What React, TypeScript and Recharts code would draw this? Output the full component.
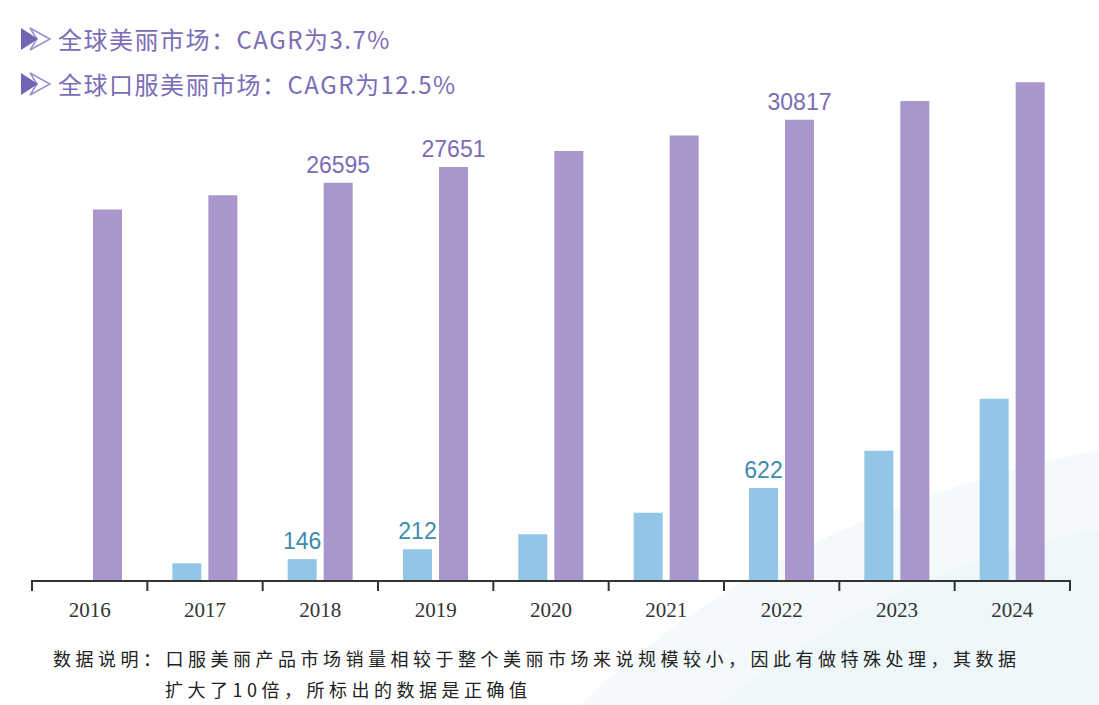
import React from 'react'
import { BarChart, Bar, XAxis, YAxis, LabelList } from 'recharts'

// 年份
const years = ['2016', '2017', '2018', '2019', '2020', '2021', '2022', '2023', '2024']
// 全球美丽市场规模
const globalBeauty = [24811, 25766, 26595, 27651, 28723, 29750, 30817, 32060, 33308]
// 全球口服美丽市场规模（真实值，图中柱高放大10倍）
const oralBeauty: (number | null)[] = [null, 118, 146, 212, 312, 456, 622, 870, 1217]
const oralScale = 10
// 只标注这几年的数值
const labeledYears = ['2018', '2019', '2022']

const titles = ['全球美丽市场：CAGR为3.7%', '全球口服美丽市场：CAGR为12.5%']
const noteLines = [
  '数据说明：口服美丽产品市场销量相较于整个美丽市场来说规模较小，因此有做特殊处理，其数据',
  '扩大了10倍，所标出的数据是正确值',
]

const W = 1099
const H = 705
const PLOT_LEFT = 32
const PLOT_RIGHT = 1070
const BASELINE = 581

const PURPLE = '#a996cd'
const BLUE = '#93c6e6'
const TITLE_COLOR = '#7b6cb7'
const BLUE_LABEL = '#3d8cad'

const data = years.map((year, i) => {
  const shown = labeledYears.includes(year)
  return {
    year,
    global: globalBeauty[i],
    globalLabel: shown ? globalBeauty[i] : null,
    oral: oralBeauty[i] == null ? null : (oralBeauty[i] as number) * oralScale,
    oralLabel: shown ? oralBeauty[i] : null,
  }
})

const halfBand = (PLOT_RIGHT - PLOT_LEFT) / years.length / 2

const YearTick = (props: any) => {
  const { x, y, payload, index } = props
  const last = index === years.length - 1
  return (
    <g>
      <line x1={x - halfBand} x2={x - halfBand} y1={y - 1} y2={y + 10} stroke="#333" strokeWidth={2} />
      {last && <line x1={x + halfBand} x2={x + halfBand} y1={y - 1} y2={y + 10} stroke="#333" strokeWidth={2} />}
      <text
        x={x}
        y={y + 36}
        textAnchor="middle"
        fill="#333"
        style={{ fontFamily: '"Liberation Serif", serif', fontSize: 21 }}
      >
        {payload.value}
      </text>
    </g>
  )
}

const makeLabel = (color: string) => (props: any) => {
  const { x, y, width, value } = props
  if (value == null) return null
  return (
    <text
      x={Number(x) + Number(width) / 2}
      y={Number(y) - 10}
      textAnchor="middle"
      fill={color}
      style={{ fontFamily: '"Liberation Sans", Arial, sans-serif', fontSize: 23 }}
    >
      {value}
    </text>
  )
}

const Arrow = () => (
  <svg width={32} height={24} style={{ marginRight: 6, flexShrink: 0 }}>
    <polygon points="10,1 30,12 10,23 17,12" fill="#fff" stroke="#9c8fcc" strokeWidth={1.5} />
    <polygon points="1,1 18,12 1,23" fill="#7464b4" />
  </svg>
)

export default function App() {
  return (
    <div
      style={{
        position: 'absolute',
        left: 0,
        top: 0,
        width: W,
        height: H,
        background: '#fff',
        overflow: 'hidden',
        fontFamily: '"Noto Sans CJK SC", sans-serif',
      }}
    >
      {/* 背景浅色弧形装饰 */}
      <svg width={W} height={H} style={{ position: 'absolute', left: 0, top: 0 }}>
        <path d="M 580 705 C 720 570, 900 490, 1099 450 L 1099 705 Z" fill="#f4fafb" />
        <path d="M 720 705 C 840 610, 970 550, 1099 530 L 1099 705 Z" fill="#eef7f9" />
      </svg>

      {/* 标题 */}
      {titles.map((t, i) => (
        <div
          key={t}
          style={{
            position: 'absolute',
            left: 20,
            top: 26 + i * 45,
            display: 'flex',
            alignItems: 'center',
            color: TITLE_COLOR,
            fontSize: 24,
            letterSpacing: 1.5,
            lineHeight: '26px',
            whiteSpace: 'nowrap',
          }}
        >
          <Arrow />
          <span>{t}</span>
        </div>
      ))}

      <div style={{ position: 'absolute', left: 0, top: 0 }}>
        <BarChart
          width={W}
          height={H}
          data={data}
          margin={{ top: 57, right: W - PLOT_RIGHT, left: PLOT_LEFT, bottom: H - BASELINE - 30 }}
          barSize={29}
          barGap={7}
        >
          <XAxis
            dataKey="year"
            height={30}
            axisLine={{ stroke: '#333', strokeWidth: 2 }}
            tickLine={false}
            tickSize={0}
            tickMargin={0}
            interval={0}
            tick={<YearTick />}
          />
          <YAxis hide domain={[0, 35000]} />
          <Bar dataKey="oral" fill={BLUE} isAnimationActive={false}>
            <LabelList dataKey="oralLabel" content={makeLabel(BLUE_LABEL)} />
          </Bar>
          <Bar dataKey="global" fill={PURPLE} isAnimationActive={false}>
            <LabelList dataKey="globalLabel" content={makeLabel(TITLE_COLOR)} />
          </Bar>
        </BarChart>
      </div>

      {/* 数据说明 */}
      <div
        style={{
          position: 'absolute',
          left: 53,
          top: 643,
          color: '#222',
          fontSize: 18,
          letterSpacing: 4.5,
          lineHeight: '31px',
          whiteSpace: 'nowrap',
        }}
      >
        <div>{noteLines[0]}</div>
        <div style={{ paddingLeft: 112 }}>{noteLines[1]}</div>
      </div>
    </div>
  )
}
